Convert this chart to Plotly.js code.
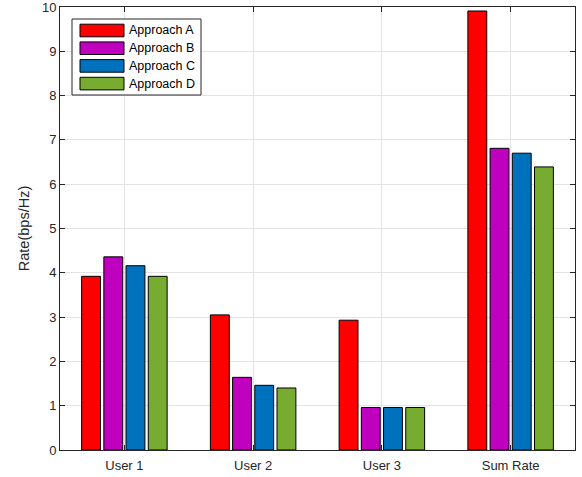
<!DOCTYPE html>
<html><head><meta charset="utf-8">
<script src="https://cdn.plot.ly/plotly-3.0.1.min.js"></script>
<style>body{margin:0;background:#fff}#c{width:582px;height:477px}</style>
</head><body><div id="c"></div>
<script>
var categories = ["User 1", "User 2", "User 3", "Sum Rate"];
var seriesNames = ["Approach A", "Approach B", "Approach C", "Approach D"];
var approachA = [3.92, 3.05, 2.93, 9.91];
var approachB = [4.36, 1.64, 0.96, 6.81];
var approachC = [4.16, 1.46, 0.96, 6.70];
var approachD = [3.92, 1.40, 0.96, 6.39];
var colors = ["#FF0000", "#BF00BF", "#0072BD", "#77AC30"];
var allSeries = [approachA, approachB, approachC, approachD];
var xPos = [1, 2, 3, 4];

var traces = allSeries.map(function (vals, i) {
  return {
    type: "bar", x: xPos, y: vals, name: seriesNames[i],
    marker: {color: colors[i], line: {color: "#000000", width: 1}},
    hoverinfo: "y", showlegend: false
  };
});

// plot area in pixels (for a legend box drawn in paper coordinates)
var W = 582, H = 477, mL = 60, mR = 7, mT = 7, mB = 27;
var pw = W - mL - mR, ph = H - mT - mB;
function px(x) { return (x - mL) / pw; }
function py(y) { return (H - mB - y) / ph; }

var shapes = [], annotations = [];
shapes.push({type: "rect", xref: "paper", yref: "paper",
  x0: px(72), x1: px(201), y0: py(95), y1: py(19),
  fillcolor: "#fff", line: {color: "#262626", width: 1}, layer: "above"});
seriesNames.forEach(function (name, i) {
  var cy = 30.5 + i * 17.7;
  shapes.push({type: "rect", xref: "paper", yref: "paper",
    x0: px(80), x1: px(124), y0: py(cy + 6.3), y1: py(cy - 6.3),
    fillcolor: colors[i], line: {color: "#000", width: 1}, layer: "above"});
  annotations.push({xref: "paper", yref: "paper", x: px(127), y: py(cy),
    xanchor: "left", yanchor: "middle", text: name, showarrow: false,
    font: {size: 12.5, color: "#000"}});
});

var layout = {
  width: W, height: H,
  margin: {l: mL, r: mR, t: mT, b: mB},
  paper_bgcolor: "#fff", plot_bgcolor: "#fff",
  font: {family: "Liberation Sans, Arial, sans-serif", size: 13, color: "#262626"},
  barmode: "group", bargap: 0.31, bargroupgap: 0.15,
  showlegend: false,
  shapes: shapes, annotations: annotations,
  xaxis: {range: [0.5, 4.5], tickvals: xPos, ticktext: categories,
    showgrid: true, gridcolor: "#e3e3e3", gridwidth: 1,
    showline: true, linecolor: "#262626", linewidth: 1, mirror: "ticks",
    ticks: "inside", ticklen: 5, tickcolor: "#262626", zeroline: false,
    ticklabelstandoff: 3, ticklabeloverflow: "allow",
    tickfont: {size: 13, color: "#262626"}},
  yaxis: {range: [0, 10], dtick: 1, tick0: 0,
    showgrid: true, gridcolor: "#e3e3e3", gridwidth: 1,
    showline: true, linecolor: "#262626", linewidth: 1, mirror: "ticks",
    ticks: "inside", ticklen: 5, tickcolor: "#262626", zeroline: false,
    ticklabeloverflow: "allow",
    tickfont: {size: 13, color: "#262626"},
    title: {text: "Rate(bps/Hz)", font: {size: 14.5, color: "#262626"}, standoff: 8}}
};

Plotly.newPlot("c", traces, layout, {displayModeBar: false, staticPlot: true});
</script>
</body></html>
